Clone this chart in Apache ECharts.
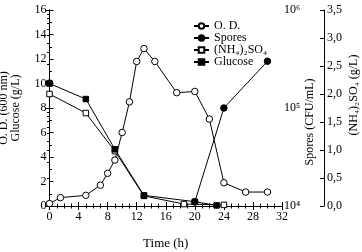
<!DOCTYPE html>
<html>
<head>
<meta charset="utf-8">
<script src="https://cdn.jsdelivr.net/npm/echarts@6/dist/echarts.min.js"></script>
<style>
  html, body { margin: 0; padding: 0; background: #fff; }
  #chart { width: 362px; height: 252px; }
</style>
</head>
<body>
<div id="chart"></div>
<script>
// data: [time (h), value]
var odData = [[0, 0.2], [1.5, 0.68], [5, 0.87], [7, 1.7], [8, 2.67], [9, 3.75], [10, 6.0], [11, 8.5],
  [12, 11.8], [13, 12.85], [14.5, 11.8], [17.5, 9.25], [20, 9.35], [22, 7.1], [24, 1.9], [27, 1.14], [30, 1.14]];
var sporesData = [[0, 180000], '-', [20, 11000], [24, 100000], [30, 300000]];
var nh4Data = [[0, 2.0], [5, 1.66], [9, 0.98], [13, 0.18], [18.5, 0.035], [24, 0.02]];
var glucoseData = [[0, 10], [5, 8.73], [9, 4.63], [13, 0.87], [20, 0.35], [23, 0.05]];
var seriesNames = ['O. D.', 'Spores', '(NH\u2084)\u2082SO\u2084', 'Glucose'];

var sup = { 4: '\u2074', 5: '\u2075', 6: '\u2076' };
var font = '"Liberation Serif", "DejaVu Serif", serif';

var myChart = echarts.init(document.getElementById('chart'));

var option = {
  backgroundColor: '#fff',
  animation: false,
  textStyle: { fontFamily: font, color: '#000' },
  grid: { left: 49.5, right: 80, top: 10, bottom: 46, outerBoundsMode: 'none', containLabel: false },
  legend: {
    data: seriesNames,
    orient: 'vertical',
    left: 188,
    top: 15,
    itemWidth: 15,
    itemHeight: 7,
    itemGap: 0,
    textStyle: { fontFamily: font, fontSize: 12, color: '#000' }
  },
  xAxis: [{
    type: 'value',
    min: 0, max: 32, interval: 4,
    name: 'Time (h)',
    nameLocation: 'middle',
    nameGap: 31,
    nameMoveOverlap: false,
    nameTextStyle: { fontFamily: font, fontSize: 13, color: '#000' },
    axisLine: { lineStyle: { color: '#000' } },
    axisTick: { inside: true, length: 4, lineStyle: { color: '#000' } },
    minorTick: { show: true, splitNumber: 4, length: 2.5, lineStyle: { color: '#000' } },
    axisLabel: { fontFamily: font, fontSize: 12, color: '#000', margin: 5 },
    splitLine: { show: false }
  }, {
    type: 'value',
    position: 'top',
    min: 0, max: 32, interval: 4,
    axisLine: { lineStyle: { color: '#000' } },
    axisTick: { inside: true, length: 4, lineStyle: { color: '#000' } },
    minorTick: { show: true, splitNumber: 4, length: 2.5, lineStyle: { color: '#000' } },
    axisLabel: { show: false },
    splitLine: { show: false }
  }],
  yAxis: [{
    type: 'value',
    min: 0, max: 16, interval: 2,
    name: 'O. D. (600 nm)\nGlucose (g/L)',
    nameLocation: 'middle',
    nameRotate: 90,
    nameGap: 27,
    nameMoveOverlap: false,
    nameTextStyle: { fontFamily: font, fontSize: 12, color: '#000', lineHeight: 12.5 },
    axisLine: { show: true, lineStyle: { color: '#000' } },
    axisTick: { inside: true, length: 4, lineStyle: { color: '#000' } },
    minorTick: { show: true, splitNumber: 2, length: 2.5, lineStyle: { color: '#000' } },
    axisLabel: { fontFamily: font, fontSize: 12, color: '#000', margin: 3 },
    splitLine: { show: false }
  }, {
    type: 'log',
    logBase: 10,
    min: 10000, max: 1000000,
    position: 'right',
    name: 'Spores (CFU/mL)',
    nameLocation: 'middle',
    nameRotate: 90,
    nameGap: 22,
    nameMoveOverlap: false,
    nameTextStyle: { fontFamily: font, fontSize: 12, color: '#000', padding: [0, 28, 0, 0] },
    axisLine: { show: true, lineStyle: { color: '#000' } },
    axisTick: { inside: true, length: 4, lineStyle: { color: '#000' } },
    minorTick: { show: true, splitNumber: 10, length: 2.5, lineStyle: { color: '#000' } },
    axisLabel: {
      fontFamily: font, fontSize: 12, color: '#000', margin: 2,
      formatter: function (v) { return '10' + sup[Math.round(Math.log10(v))]; }
    },
    splitLine: { show: false }
  }, {
    type: 'value',
    min: 0, max: 3.5, interval: 0.5,
    position: 'right',
    offset: 42,
    name: '(NH\u2084)\u2082SO\u2084 (g/L)',
    nameLocation: 'middle',
    nameRotate: 90,
    nameGap: 24,
    nameMoveOverlap: false,
    nameTextStyle: { fontFamily: font, fontSize: 12, color: '#000', padding: [0, 0, 0, 26] },
    axisLine: { show: true, lineStyle: { color: '#000' } },
    axisTick: { inside: true, length: 4, lineStyle: { color: '#000' } },
    axisLabel: {
      fontFamily: font, fontSize: 12, color: '#000', margin: 3,
      formatter: function (v) { return v.toFixed(1).replace('.', ','); }
    },
    splitLine: { show: false }
  }],
  series: [{
    name: seriesNames[0],
    type: 'line',
    yAxisIndex: 0,
    data: odData,
    symbol: 'circle',
    symbolSize: 6.5,
    lineStyle: { color: '#000', width: 1 },
    itemStyle: { color: '#fff', borderColor: '#000', borderWidth: 1 },
    z: 3
  }, {
    name: seriesNames[1],
    type: 'line',
    yAxisIndex: 1,
    data: sporesData,
    symbol: 'circle',
    symbolSize: 6.5,
    lineStyle: { color: '#000', width: 1 },
    itemStyle: { color: '#000', borderColor: '#000', borderWidth: 1 },
    z: 4
  }, {
    name: seriesNames[2],
    type: 'line',
    yAxisIndex: 2,
    data: nh4Data,
    symbol: 'rect',
    symbolSize: 5.5,
    lineStyle: { color: '#000', width: 1 },
    itemStyle: { color: '#fff', borderColor: '#000', borderWidth: 1 },
    z: 3
  }, {
    name: seriesNames[3],
    type: 'line',
    yAxisIndex: 0,
    data: glucoseData,
    symbol: 'rect',
    symbolSize: 5.5,
    lineStyle: { color: '#000', width: 1 },
    itemStyle: { color: '#000', borderColor: '#000', borderWidth: 1 },
    z: 4
  }]
};

if (option && typeof option === 'object') {
  myChart.setOption(option, true);
}
</script>
</body>
</html>
